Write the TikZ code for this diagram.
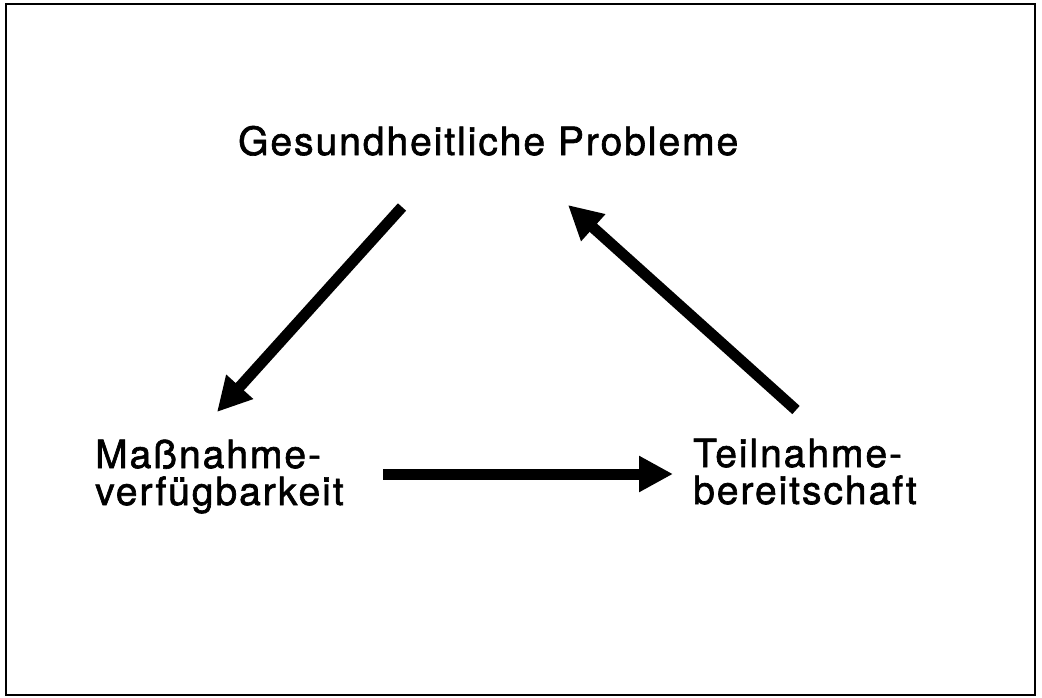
\documentclass[tikz,border=0pt]{standalone}
\usepackage{fontspec}
\setmainfont{TeX Gyre Heros}[LetterSpace=5,FakeBold=1.6]
\usetikzlibrary{arrows.meta}
\begin{document}
\begin{tikzpicture}[x=1pt,y=-1pt,
  lbl/.style={font=\fontsize{39}{37}\selectfont, inner sep=0pt, align=left},
  conn/.style={line width=11pt, -{Triangle[length=34pt,width=34pt]}},
  frame/.style={line width=2.5pt}]
\useasboundingbox (0,0) rectangle (1042,697);
\draw[frame] (6,4) rectangle (1035,695);
\node[lbl, anchor=base west] (g) at (238,155) {Gesundheitliche Probleme};
\node[lbl, anchor=base west] (m) at (95,505) {Maßnahme-\\verfügbarkeit};
\node[lbl, anchor=base west] (t) at (693,504) {Teilnahme-\\bereitschaft};
\coordinate (gm1) at (402,207);
\coordinate (gm2) at (217,412);
\coordinate (tg1) at (796,410);
\coordinate (tg2) at (568,205);
\coordinate (mt1) at (383,474);
\coordinate (mt2) at (673,474);
\draw[conn] (gm1) -- (gm2);
\draw[conn] (tg1) -- (tg2);
\draw[conn] (mt1) -- (mt2);
\end{tikzpicture}
\end{document}
